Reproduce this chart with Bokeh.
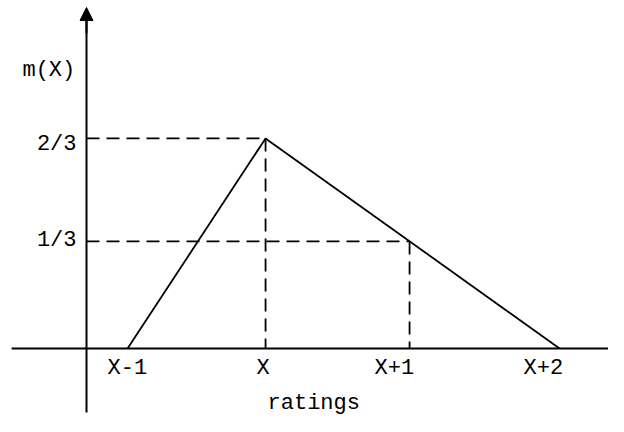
from bokeh.plotting import figure
from bokeh.models import Range1d, Arrow, NormalHead, ColumnDataSource
from bokeh.core.properties import value
from bokeh.embed import file_html
from bokeh.resources import INLINE

# ---- data ----
x_tick_labels = ["X-1", "X", "X+1", "X+2"]
x_ticks = [0.287, 1.252, 2.259, 3.308]          # positions on the ratings axis
x_label_left = [0.147, 1.189, 2.014, 3.056]     # left edges of the tick labels
y_tick_labels = ["1/3", "2/3"]
y_levels = [0.34, 0.667]                         # m(X) levels
y_label_offset = [-1, 6]
membership = [0, 0.667, 0.34, 0]                 # m at X-1, X, X+1, X+2

FONT = value("Liberation Mono")
FS = "22px"

p = figure(width=608, height=416, output_backend="svg", toolbar_location=None,
           x_range=Range1d(-0.6014, 3.65), y_range=Range1d(-0.2159, 1.1048),
           min_border=0)
p.axis.visible = False
p.grid.visible = False
p.outline_line_color = None
p.background_fill_color = "white"

# axes lines
p.line([-0.524, 3.70], [0, 0], line_color="black", line_width=2)
p.line([0, 0], [-0.203, 1.05], line_color="black", line_width=2)
p.add_layout(Arrow(end=NormalHead(size=13, fill_color="black", line_color="black"),
                   x_start=0, y_start=1.0, x_end=0, y_end=1.0825,
                   line_color="black", line_width=2))

# triangle membership function (X-1 -> X -> X+2)
tri_x = [x_ticks[0], x_ticks[1], x_ticks[3]]
tri_y = [membership[0], membership[1], membership[3]]
p.line(tri_x, tri_y, line_color="black", line_width=1.8)

# dashed guides
dash = "13 7"
p.line([0, x_ticks[1]], [membership[1], membership[1]], line_color="black",
       line_width=1.8, line_dash=dash)
p.line([x_ticks[1], x_ticks[1]], [membership[1], 0], line_color="black",
       line_width=1.8, line_dash=dash)
p.line([0, x_ticks[2]], [membership[2], membership[2]], line_color="black",
       line_width=1.8, line_dash=dash)
p.line([x_ticks[2], x_ticks[2]], [membership[2], 0], line_color="black",
       line_width=1.8, line_dash=dash)

# tick labels
xs = ColumnDataSource(dict(x=x_label_left, y=[0] * 4, t=x_tick_labels))
p.text(x="x", y="y", text="t", source=xs, text_font=FONT, text_font_size=FS,
       text_align="left", text_baseline="middle", y_offset=20, text_color="black")

ys = ColumnDataSource(dict(x=[0] * 2, y=y_levels, t=y_tick_labels, off=y_label_offset))
p.text(x="x", y="y", text="t", source=ys, text_font=FONT, text_font_size=FS,
       text_align="right", text_baseline="middle", x_offset=-10, y_offset="off",
       text_color="black")

# axis titles
p.text(x=[-0.448], y=[0.883], text=["m(X)"], text_font=FONT, text_font_size=FS,
       text_align="left", text_baseline="middle", text_color="black")
p.text(x=[1.266], y=[-0.1746], text=["ratings"], text_font=FONT, text_font_size=FS,
       text_align="left", text_baseline="middle", text_color="black")

open("out.html", "w").write(file_html(p, INLINE))
